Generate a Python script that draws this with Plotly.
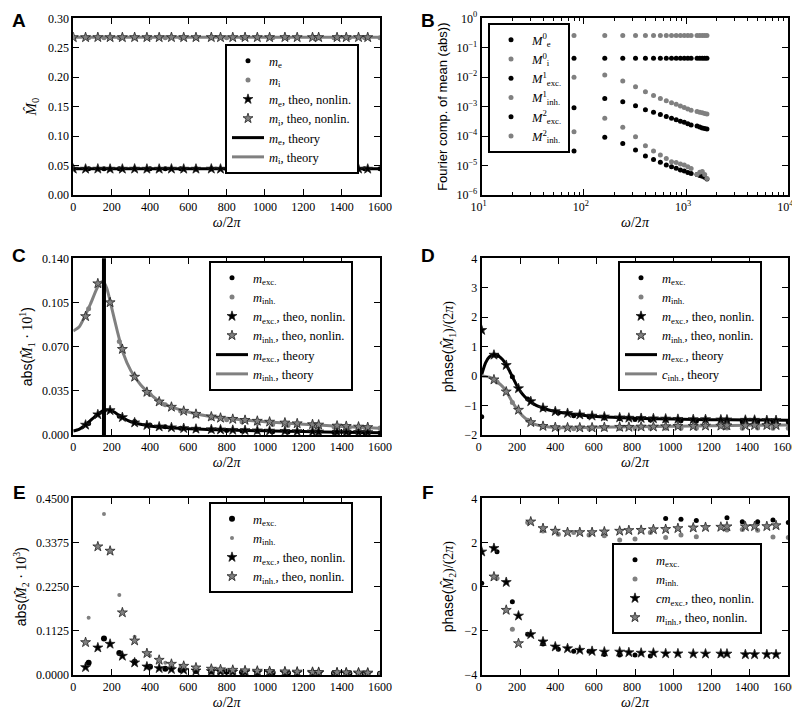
import plotly.graph_objects as go
from plotly.subplots import make_subplots

BLACK = "black"
GRAY = "#808080"
SERIF = "Liberation Serif"
SANS = "Liberation Sans"

# ---------------- data ----------------
# frequencies omega/2pi of the simulations and of the nonlinear theory
freq_sim = [80, 160, 240, 320, 400, 480, 560, 640, 720, 800, 880, 960, 1040, 1120, 1280, 1360, 1440, 1520, 1600]
freq_theo = [64, 128, 192, 256, 320, 384, 448, 512, 576, 640, 720, 768, 832, 896, 960, 1024, 1104, 1168, 1248, 1280,
             1376, 1424, 1488, 1536]
freq_sim0 = [0, 80, 160, 240, 320, 400, 480, 560, 640, 720, 800, 880, 960, 1040, 1120, 1280, 1360, 1440, 1520, 1600]
freq_theo0 = [0, 64, 128, 192, 256, 320, 384, 448, 512, 576, 640, 720, 768, 832, 896, 960, 1024, 1104, 1168, 1248,
              1280, 1376, 1424, 1488, 1536]

# A: zeroth Fourier component
a_exc_sim = [0.0447, 0.0446, 0.0446, 0.0445, 0.0446, 0.0445, 0.0446, 0.0445, 0.0445, 0.0446, 0.0445, 0.0446, 0.0445,
             0.0446, 0.0445, 0.0446, 0.0445, 0.0445, 0.0446]
a_inh_sim = [0.2668, 0.2670, 0.2669, 0.2668, 0.2670, 0.2669, 0.2668, 0.2669, 0.2670, 0.2668, 0.2669, 0.2670, 0.2668,
             0.2669, 0.2668, 0.2670, 0.2669, 0.2668, 0.2669]
a_exc_nl = [0.0443, 0.0443, 0.0444, 0.0443, 0.0443, 0.0444, 0.0443, 0.0443, 0.0444, 0.0443, 0.0443, 0.0444, 0.0443,
            0.0443, 0.0444, 0.0443, 0.0443, 0.0444, 0.0443, 0.0443, 0.0444, 0.0443, 0.0443, 0.0444, 0.0443]
a_inh_nl = [0.2676, 0.2676, 0.2677, 0.2676, 0.2676, 0.2677, 0.2676, 0.2676, 0.2677, 0.2676, 0.2676, 0.2677, 0.2676,
            0.2676, 0.2677, 0.2676, 0.2676, 0.2677, 0.2676, 0.2676, 0.2677, 0.2676, 0.2676, 0.2677, 0.2676]
a_theo_freq = [0, 1600]
a_exc_theory = [0.0445, 0.0445]
a_inh_theory = [0.2680, 0.2680]

# B: all Fourier components (abs)
b_m0_exc = [0.0440, 0.0439, 0.0440, 0.0440, 0.0439, 0.0440, 0.0440, 0.0439, 0.0440, 0.0440, 0.0439, 0.0440, 0.0440,
            0.0439, 0.0440, 0.0440, 0.0439, 0.0440, 0.0440]
b_m0_inh = [0.262, 0.262, 0.263, 0.262, 0.262, 0.263, 0.262, 0.262, 0.263, 0.262, 0.262, 0.263, 0.262, 0.262, 0.263,
            0.262, 0.262, 0.263, 0.262]
b_m1_exc = [9.1e-4, 1.9e-3, 1.48e-3, 1.07e-3, 7.9e-4, 6.5e-4, 5.4e-4, 4.6e-4, 4.0e-4, 3.6e-4, 3.2e-4, 2.95e-4, 2.63e-4,
            2.4e-4, 2.19e-4, 2.04e-4, 1.9e-4, 1.82e-4, 1.74e-4]
b_m1_inh = [1.0e-2, 1.18e-2, 7.4e-3, 4.7e-3, 3.2e-3, 2.4e-3, 1.9e-3, 1.58e-3, 1.35e-3, 1.2e-3, 1.05e-3, 9.3e-4, 8.3e-4,
            7.6e-4, 6.9e-4, 6.5e-4, 6.2e-4, 5.9e-4, 5.6e-4]
b_m2_exc = [3.1e-5, 9.1e-5, 5.6e-5, 3.4e-5, 2.1e-5, 1.62e-5, 1.29e-5, 1.05e-5, 9.1e-6, 8.1e-6, 7.1e-6, 6.5e-6, 5.8e-6,
            5.4e-6, 5.0e-6, 4.6e-6, 4.3e-6, 4.0e-6, 3.5e-6]
b_m2_inh = [1.41e-4, 4.0e-4, 2.0e-4, 9.5e-5, 4.7e-5, 3.1e-5, 2.3e-5, 1.74e-5, 1.35e-5, 1.26e-5, 1.12e-5, 1.05e-5,
            9.1e-6, 7.9e-6, 5.0e-6, 5.9e-6, 6.3e-6, 5.0e-6, 3.6e-6]

# C: first Fourier component (abs)
c_theo_freq = [0, 30, 60, 90, 120, 140, 157, 175, 200, 230, 260, 300, 350, 400, 450, 500, 600, 700, 800, 1000, 1200,
               1400, 1600]
c_exc_theory = [0.0032, 0.0045, 0.0075, 0.0115, 0.0155, 0.0178, 0.0192, 0.0198, 0.0193, 0.0165, 0.0135, 0.0105,
                0.0085, 0.0072, 0.0064, 0.0058, 0.0050, 0.0044, 0.0040, 0.0033, 0.0027, 0.0022, 0.0018]
c_inh_theory = [0.0824, 0.0855, 0.0940, 0.1040, 0.1150, 0.1205, 0.1215, 0.1160, 0.1010, 0.0820, 0.0650, 0.0510,
                0.0400, 0.0325, 0.0265, 0.0228, 0.0182, 0.0150, 0.0132, 0.0105, 0.0085, 0.0068, 0.0053]
c_exc_sim = [0.0091, 0.0190, 0.0148, 0.0107, 0.0079, 0.0065, 0.0054, 0.0046, 0.0040, 0.0036, 0.0032, 0.0030, 0.0026,
             0.0024, 0.0022, 0.0020, 0.0019, 0.0018, 0.0017]
c_inh_sim = [0.100, 0.118, 0.074, 0.047, 0.032, 0.024, 0.019, 0.0158, 0.0135, 0.0120, 0.0105, 0.0093, 0.0083, 0.0076,
             0.0069, 0.0065, 0.0062, 0.0059, 0.0056]
c_exc_nl = [0.0080, 0.0162, 0.0195, 0.0140, 0.0098, 0.0077, 0.0066, 0.0059, 0.0053, 0.0048, 0.0044, 0.0042, 0.0039,
            0.0037, 0.0035, 0.0033, 0.0031, 0.0029, 0.0027, 0.0026, 0.0024, 0.0023, 0.0022, 0.0021]
c_inh_nl = [0.094, 0.120, 0.105, 0.068, 0.046, 0.034, 0.0264, 0.0222, 0.0190, 0.0166, 0.0145, 0.0135, 0.0126, 0.0118,
            0.0111, 0.0104, 0.0097, 0.0091, 0.0084, 0.0081, 0.0073, 0.0070, 0.0065, 0.0061]
resonance_freq = 160

# D: phase of first Fourier component
d_theo_freq = [0, 20, 40, 60, 80, 100, 120, 140, 160, 180, 200, 225, 250, 275, 300, 350, 400, 500, 600, 800, 1000,
               1200, 1400, 1600]
d_exc_theory = [0.05, 0.45, 0.65, 0.72, 0.71, 0.62, 0.47, 0.24, -0.02, -0.28, -0.50, -0.70, -0.85, -0.96, -1.04,
                -1.15, -1.22, -1.31, -1.37, -1.43, -1.46, -1.48, -1.49, -1.50]
d_inh_theory = [0.0, -0.01, -0.04, -0.10, -0.19, -0.30, -0.44, -0.65, -0.88, -1.08, -1.25, -1.42, -1.55, -1.63, -1.68,
                -1.73, -1.75, -1.75, -1.74, -1.72, -1.70, -1.69, -1.67, -1.66]
d_exc_sim = [-1.38, 0.70, -0.02, -0.78, -1.10, -1.25, -1.35, -1.38, -1.42, -1.45, -1.47, -1.49, -1.50, -1.52, -1.53,
             -1.54, -1.55, -1.55, -1.56, -1.56]
d_inh_sim = [-0.20, -0.90, -1.50, -1.72, -1.77, -1.79, -1.79, -1.78, -1.78, -1.78, -1.77, -1.77, -1.77, -1.77, -1.76,
             -1.77, -1.76, -1.77, -1.77]
d_exc_nl = [1.56, 0.72, 0.37, -0.42, -0.86, -1.08, -1.20, -1.26, -1.31, -1.35, -1.38, -1.41, -1.42, -1.43, -1.44,
            -1.45, -1.46, -1.47, -1.47, -1.48, -1.48, -1.49, -1.49, -1.50, -1.50]
d_inh_nl = [-0.12, -0.53, -1.15, -1.57, -1.70, -1.74, -1.75, -1.75, -1.75, -1.74, -1.73, -1.73, -1.72, -1.72, -1.71,
            -1.70, -1.70, -1.69, -1.69, -1.68, -1.68, -1.67, -1.67, -1.67]

# E: second Fourier component (abs)
e_exc_sim = [0.031, 0.093, 0.056, 0.034, 0.021, 0.0162, 0.0129, 0.0105, 0.0091, 0.0081, 0.0071, 0.0065, 0.0058, 0.0054,
             0.0050, 0.0046, 0.0043, 0.0040, 0.0035]
e_inh_sim = [0.146, 0.410, 0.204, 0.0976, 0.049, 0.031, 0.023, 0.0174, 0.0135, 0.0126, 0.0112, 0.0105, 0.0091, 0.0079,
             0.0050, 0.0059, 0.0063, 0.0050, 0.0036]
e_exc_nl = [0.0196, 0.0696, 0.0790, 0.0484, 0.0314, 0.0212, 0.0170, 0.0145, 0.0127, 0.0110, 0.0095, 0.0088, 0.0080,
            0.0074, 0.0068, 0.0064, 0.0059, 0.0055, 0.0051, 0.0050, 0.0046, 0.0044, 0.0042, 0.0040]
e_inh_nl = [0.0832, 0.327, 0.316, 0.159, 0.0874, 0.0552, 0.0382, 0.0280, 0.0229, 0.0187, 0.0155, 0.0140, 0.0127,
            0.0114, 0.0104, 0.0096, 0.0088, 0.0082, 0.0075, 0.0072, 0.0066, 0.0063, 0.0060, 0.0057]

# F: phase of second Fourier component
f_exc_sim = [0.15, 1.58, -0.68, -2.16, -2.60, -2.83, -2.92, -2.92, -3.07, -3.10, -3.10, -3.14, 3.09, 3.05, 3.00, 3.12,
             2.94, 2.94, 3.02, 2.90]
f_inh_sim = [0.38, -1.93, 2.91, 2.52, 2.37, 2.45, 2.34, 2.31, 2.11, 2.16, 2.45, 2.22, 2.34, 2.26, 2.56, 2.59, 2.55,
             2.25, 2.23]
f_exc_nl = [1.58, 1.74, 0.20, -1.32, -2.16, -2.49, -2.72, -2.80, -2.87, -2.92, -2.95, -2.95, -2.98, -3.00, -3.00,
            -3.03, -3.03, -3.04, -3.04, -3.04, -3.04, -3.07, -3.07, -3.07, -3.07]
f_inh_nl = [0.45, -1.06, -2.57, 2.94, 2.64, 2.52, 2.46, 2.46, 2.46, 2.49, 2.52, 2.55, 2.56, 2.59, 2.60, 2.64, 2.67,
            2.69, 2.70, 2.72, 2.72, 2.73, 2.73, 2.77]

# ---------------- figure ----------------
fig = make_subplots(rows=3, cols=2)


def m(sub, extra=""):
    return "<i>m</i><sub>" + sub + "</sub>" + extra


def dots(x, y, color, name, legend, row, col, rank, size=5):
    fig.add_trace(go.Scatter(x=x, y=y, mode="markers", name=name, legend=legend, legendrank=rank,
                             marker=dict(color=color, size=size, line=dict(width=0))), row=row, col=col)


def stars(x, y, color, name, legend, row, col, rank):
    fig.add_trace(go.Scatter(x=x, y=y, mode="markers", name=name, legend=legend, legendrank=rank,
                             marker=dict(symbol="star", color=color, size=7.5, line=dict(color="#222", width=0.8))),
                  row=row, col=col)


def curve(x, y, color, name, legend, row, col, rank):
    fig.add_trace(go.Scatter(x=x, y=y, mode="lines", name=name, legend=legend, legendrank=rank,
                             line=dict(color=color, width=3, shape="spline", smoothing=0.6)), row=row, col=col)


NL = ", theo, nonlin."
TH = ", theory"

# A
curve(a_theo_freq, a_exc_theory, BLACK, m("e", TH), "legend", 1, 1, 5)
curve(a_theo_freq, a_inh_theory, GRAY, m("i", TH), "legend", 1, 1, 6)
dots(freq_sim, a_exc_sim, BLACK, m("e"), "legend", 1, 1, 1)
dots(freq_sim, a_inh_sim, GRAY, m("i"), "legend", 1, 1, 2)
stars(freq_theo0, a_exc_nl, BLACK, m("e", NL), "legend", 1, 1, 3)
stars(freq_theo0, a_inh_nl, GRAY, m("i", NL), "legend", 1, 1, 4)

# B
dots(freq_sim, b_m0_exc, BLACK, "<i>M</i><sup>0</sup><sub>e</sub>", "legend2", 1, 2, 1)
dots(freq_sim, b_m0_inh, GRAY, "<i>M</i><sup>0</sup><sub>i</sub>", "legend2", 1, 2, 2)
dots(freq_sim, b_m1_exc, BLACK, "<i>M</i><sup>1</sup><sub>exc.</sub>", "legend2", 1, 2, 3)
dots(freq_sim, b_m1_inh, GRAY, "<i>M</i><sup>1</sup><sub>inh.</sub>", "legend2", 1, 2, 4)
dots(freq_sim, b_m2_exc, BLACK, "<i>M</i><sup>2</sup><sub>exc.</sub>", "legend2", 1, 2, 5)
dots(freq_sim, b_m2_inh, GRAY, "<i>M</i><sup>2</sup><sub>inh.</sub>", "legend2", 1, 2, 6)

# C
curve(c_theo_freq, c_exc_theory, BLACK, m("exc.", TH), "legend3", 2, 1, 5)
curve(c_theo_freq, c_inh_theory, GRAY, m("inh.", TH), "legend3", 2, 1, 6)
dots(freq_sim, c_exc_sim, BLACK, m("exc."), "legend3", 2, 1, 1)
dots(freq_sim, c_inh_sim, GRAY, m("inh."), "legend3", 2, 1, 2)
stars(freq_theo, c_exc_nl, BLACK, m("exc.", NL), "legend3", 2, 1, 3)
stars(freq_theo, c_inh_nl, GRAY, m("inh.", NL), "legend3", 2, 1, 4)
fig.add_vline(x=resonance_freq, line=dict(color=BLACK, width=4), row=2, col=1)

# D
curve(d_theo_freq, d_exc_theory, BLACK, m("exc.", TH), "legend4", 2, 2, 5)
curve(d_theo_freq, d_inh_theory, GRAY, "<i>c</i><sub>inh.</sub>" + TH, "legend4", 2, 2, 6)
dots(freq_sim0, d_exc_sim, BLACK, m("exc."), "legend4", 2, 2, 1)
dots(freq_sim, d_inh_sim, GRAY, m("inh."), "legend4", 2, 2, 2)
stars(freq_theo0, d_exc_nl, BLACK, m("exc.", NL), "legend4", 2, 2, 3)
stars(freq_theo, d_inh_nl, GRAY, m("inh.", NL), "legend4", 2, 2, 4)

# E
dots(freq_sim, e_exc_sim, BLACK, m("exc."), "legend5", 3, 1, 1, size=6)
dots(freq_sim, e_inh_sim, GRAY, m("inh."), "legend5", 3, 1, 2, size=4)
stars(freq_theo, e_exc_nl, BLACK, m("exc.", NL), "legend5", 3, 1, 3)
stars(freq_theo, e_inh_nl, GRAY, m("inh.", NL), "legend5", 3, 1, 4)

# F
dots(freq_sim0, f_exc_sim, BLACK, m("exc."), "legend6", 3, 2, 1)
dots(freq_sim, f_inh_sim, GRAY, m("inh."), "legend6", 3, 2, 2)
stars(freq_theo0, f_exc_nl, BLACK, "<i>cm</i><sub>exc.</sub>" + NL, "legend6", 3, 2, 3)
stars(freq_theo, f_inh_nl, GRAY, m("inh.", NL), "legend6", 3, 2, 4)

# ---------------- layout ----------------
# the page body adds an 8px margin, so the figure is 8px smaller and
# screen positions are shifted by 8px
OFF = 8
W, H = 800 - OFF, 718 - OFF
col_x = [(73.3, 380.0), (481.7, 788.3)]
row_y = [(18.3, 195.0), (258.3, 435.0), (498.3, 675.0)]


def px(sx):
    return (sx - OFF) / W


def py(sy):
    return 1 - (sy - OFF) / H


axis_common = dict(showline=True, linecolor=BLACK, linewidth=2, mirror="allticks", ticks="inside", ticklen=6,
                   tickwidth=1, tickcolor=BLACK, showgrid=False, zeroline=False, automargin=False,
                   ticklabeloverflow="allow",
                   tickfont=dict(family=SERIF, size=12, color=BLACK))
fig.update_xaxes(**axis_common)
fig.update_yaxes(**axis_common)

xtitle = dict(text="<i>ω</i>/2<i>π</i>", font=dict(family=SERIF, size=14, color=BLACK), standoff=4)
panels = ["A", "B", "C", "D", "E", "F"]
for i in range(6):
    r, c = divmod(i, 2)
    sfx = "" if i == 0 else str(i + 1)
    x0, x1 = col_x[c]
    y0, y1 = row_y[r]
    fig.layout["xaxis" + sfx].domain = [px(x0), px(x1)]
    fig.layout["yaxis" + sfx].domain = [py(y1), py(y0)]
    fig.layout["xaxis" + sfx].title = xtitle
    if r == 0:
        ly, anchor = 1.0, "top"
    else:
        ly, anchor = py([255, 492][r - 1]), "middle"
    fig.add_annotation(text="<b>" + panels[i] + "</b>", xref="paper", yref="paper",
                       x=px(19 if c == 0 else 428), y=ly, xanchor="center", yanchor=anchor,
                       showarrow=False, font=dict(family=SANS, size=19, color=BLACK))

lin_x = dict(range=[0, 1600], tick0=0, dtick=200)
for ax in ["xaxis", "xaxis3", "xaxis4", "xaxis5", "xaxis6"]:
    fig.layout[ax].update(**lin_x)
for ax in ["xaxis4", "xaxis6"]:
    fig.layout[ax].ticklabelshift = -3

sans_span = '<span style="font-family:' + SANS + '">'
ytitle_font = dict(family=SERIF, size=14, color=BLACK)
fig.layout.yaxis.update(range=[0, 0.30], dtick=0.05, tickformat=".2f",
                        title=dict(text="<i>M̂</i><sub>0</sub>", font=dict(family=SERIF, size=15, color=BLACK),
                                   standoff=8))
fig.layout.xaxis2.update(type="log", range=[1, 4], tickvals=[10, 100, 1000, 10000], ticklabelshift=-3,
                         ticktext=["10<sup>1</sup>", "10<sup>2</sup>", "10<sup>3</sup>", "10<sup>4</sup>"],
                         minor=dict(ticks="inside", ticklen=3, tickcolor=BLACK,
                                    tickvals=[20, 30, 40, 50, 60, 70, 80, 90, 200, 300, 400, 500, 600, 700, 800, 900,
                                              2000, 3000, 4000, 5000, 6000, 7000, 8000, 9000]))
fig.layout.yaxis2.update(type="log", range=[-6, 0], tickvals=[1e-6, 1e-5, 1e-4, 1e-3, 1e-2, 1e-1, 1],
                         ticktext=["10<sup>−6</sup>", "10<sup>−5</sup>", "10<sup>−4</sup>", "10<sup>−3</sup>",
                                   "10<sup>−2</sup>", "10<sup>−1</sup>", "10<sup>0</sup>"],
                         title=dict(text="Fourier comp. of mean (abs))", font=dict(family=SANS, size=13, color=BLACK),
                                    standoff=6))
fig.layout.yaxis3.update(range=[0, 0.14], dtick=0.035, tickformat=".3f",
                         title=dict(text=sans_span + "abs(</span><i>M̂</i><sub>1</sub> · 10<sup>1</sup>" + sans_span
                                    + ")</span>", font=ytitle_font, standoff=6))
fig.layout.yaxis4.update(range=[-2, 4], dtick=1,
                         title=dict(text=sans_span + "phase(</span><i>M̂</i><sub>1</sub>)/(2<i>π</i>)",
                                    font=ytitle_font, standoff=8))
fig.layout.yaxis5.update(range=[0, 0.45], dtick=0.1125, tickformat=".4f",
                         title=dict(text=sans_span + "abs(</span><i>M̂</i><sub>2</sub> · 10<sup>3</sup>" + sans_span
                                    + ")</span>", font=ytitle_font, standoff=6))
fig.layout.yaxis6.update(range=[-4, 4], dtick=2,
                         title=dict(text=sans_span + "phase(</span><i>M̂</i><sub>2</sub>)/(2<i>π</i>)",
                                    font=ytitle_font, standoff=8))

legend_common = dict(xanchor="left", yanchor="top", bordercolor=BLACK, borderwidth=2, bgcolor="white",
                     font=dict(family=SERIF, size=12.5, color=BLACK), tracegroupgap=0, itemwidth=32)
legend_pos = {"legend": (225, 44), "legend2": (488, 23), "legend3": (209, 261), "legend4": (618, 261),
              "legend5": (209, 502), "legend6": (612, 543)}
for name, (lx, ly) in legend_pos.items():
    fig.layout[name] = dict(x=px(lx), y=py(ly), **legend_common)

fig.update_layout(width=W, height=H, margin=dict(l=0, r=0, t=0, b=0), plot_bgcolor="white",
                  paper_bgcolor="white", showlegend=True)

fig.write_html("out.html")
